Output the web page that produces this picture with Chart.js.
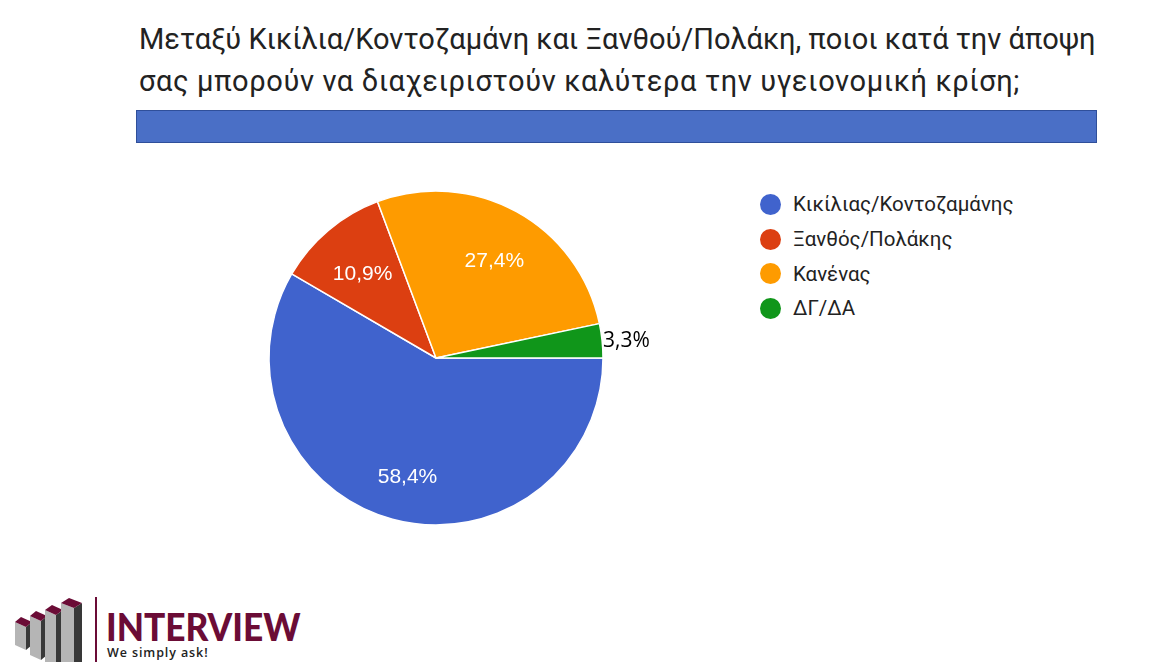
<!DOCTYPE html>
<html lang="el">
<head>
<meta charset="utf-8">
<script src="https://cdn.jsdelivr.net/npm/chart.js@4.4.1/dist/chart.umd.min.js"></script>
<style>
  html, body { margin: 0; padding: 0; background: #fff; }
  body { width: 1161px; height: 662px; position: relative; overflow: hidden; font-family: Roboto, "Noto Sans", sans-serif; }
  #title { position: absolute; left: 139px; top: 18px; font-size: 29px; line-height: 42px; color: #222; white-space: nowrap; }
  #title .l2 { letter-spacing: 0.62px; }
  #band { position: absolute; left: 136px; top: 110px; width: 959px; height: 31px; background: #4a6fc6; border: 1px solid #2f4f9a; }
  #pieWrap { position: absolute; left: 260px; top: 180px; width: 400px; height: 360px; }
  #legend { position: absolute; left: 760px; top: 187px; list-style: none; margin: 0; padding: 0; }
  #legend li { height: 34.7px; display: flex; align-items: center; font-size: 20.5px; color: #222; }
  #legend .dot { width: 21px; height: 21px; border-radius: 50%; margin-right: 12px; }
  #logo { position: absolute; left: 0; top: 590px; }
  #brand { position: absolute; left: 106px; top: 608px; font-family: Lato, sans-serif; font-weight: 900; font-size: 36px; line-height: 34px; color: #6b0c36; transform: scale(0.98, 1.05); transform-origin: left top; }
  #tag { position: absolute; left: 107px; top: 646px; font-family: "Open Sans", sans-serif; font-weight: 600; font-size: 12.5px; line-height: 14px; color: #222; letter-spacing: 0.9px; }
</style>
</head>
<body>
<div id="title">Μεταξύ Κικίλια/Κοντοζαμάνη και Ξανθού/Πολάκη, ποιοι κατά την άποψη<br><span class="l2">σας μπορούν να διαχειριστούν καλύτερα την υγειονομική κρίση;</span></div>
<div id="band"></div>
<div id="pieWrap"><canvas id="pieChart" width="400" height="360"></canvas></div>
<ul id="legend"></ul>
<canvas id="logo" width="100" height="72"></canvas>
<div id="brand">INTERVIEW</div>
<div id="tag">We simply ask!</div>

<script>
// data
const categories = ['Κικίλιας/Κοντοζαμάνης', 'Ξανθός/Πολάκης', 'Κανένας', 'ΔΓ/ΔΑ'];
const shares = [58.4, 10.9, 27.4, 3.3];
const sliceColors = ['#4063cd', '#dc3f11', '#fe9b00', '#10961a'];

// percentage labels drawn on / beside each slice
const sliceLabels = {
    id: 'sliceLabels',
    afterDatasetsDraw(chart) {
        const ctx = chart.ctx;
        const arcs = chart.getDatasetMeta(0).data;
        ctx.save();
        arcs.forEach((arc, i) => {
            const p = arc.getProps(['x', 'y', 'startAngle', 'endAngle', 'outerRadius']);
            const mid = (p.startAngle + p.endAngle) / 2;
            const text = shares[i].toFixed(1).replace('.', ',') + '%';
            ctx.textBaseline = 'middle';
            if (shares[i] < 5) {
                // small slice: label outside, black
                ctx.font = '21px "Open Sans", sans-serif';
                ctx.fillStyle = '#000';
                ctx.textAlign = 'left';
                ctx.fillText(text, p.x + Math.cos(mid) * (p.outerRadius + 1), p.y + Math.sin(mid) * p.outerRadius);
            } else {
                ctx.font = '21px "Liberation Sans", Arial, sans-serif';
                ctx.fillStyle = '#fff';
                ctx.textAlign = 'center';
                const r = p.outerRadius * 0.7;
                ctx.fillText(text, p.x + Math.cos(mid) * r + 2, p.y + Math.sin(mid) * r + 6);
            }
        });
        ctx.restore();
    }
};

function initPieChart(canvasId) {
    const ctx = document.getElementById(canvasId).getContext('2d');
    new Chart(ctx, {
        type: 'pie',
        data: {
            labels: categories,
            datasets: [{
                data: shares,
                backgroundColor: sliceColors,
                borderColor: '#fff',
                borderWidth: 1.5
            }]
        },
        options: {
            responsive: false,
            animation: false,
            rotation: 90,
            radius: 167,
            layout: { padding: { left: 0, right: 48, top: 0, bottom: 4 } },
            plugins: {
                legend: { display: false },
                tooltip: { enabled: false }
            }
        },
        plugins: [sliceLabels]
    });
}

function buildLegend(listId) {
    const list = document.getElementById(listId);
    categories.forEach((name, i) => {
        const li = document.createElement('li');
        li.innerHTML = '<span class="dot" style="background:' + sliceColors[i] + '"></span>' + name;
        list.appendChild(li);
    });
}

// company logo: four isometric bars (left, split, right, top, bottom)
function drawLogo(canvasId) {
    const ctx = document.getElementById(canvasId).getContext('2d');
    const bars = [[15, 26, 32, 27, 50], [30, 41, 47, 21, 60], [45, 56, 63, 15, 70], [61, 74, 82, 8, 82]];
    const dh = 5;
    function poly(pts, color) {
        ctx.fillStyle = color;
        ctx.beginPath();
        ctx.moveTo(pts[0][0], pts[0][1]);
        pts.slice(1).forEach(q => ctx.lineTo(q[0], q[1]));
        ctx.closePath();
        ctx.fill();
    }
    bars.forEach(([l, s, r, t, b]) => {
        poly([[l, t + dh], [s, t + 2 * dh], [s, b + 2 * dh], [l, b + dh]], '#b5b5b5');
        poly([[s, t + 2 * dh], [r, t + dh], [r, b + dh], [s, b + 2 * dh]], '#383838');
        poly([[l, t + dh], [l + (r - s), t], [r, t + dh], [s, t + 2 * dh]], '#6b0c36');
    });
    ctx.fillStyle = '#6b0c36';
    ctx.fillRect(95, 7, 2, 65);
}

initPieChart('pieChart');
buildLegend('legend');
drawLogo('logo');
</script>
</body>
</html>
